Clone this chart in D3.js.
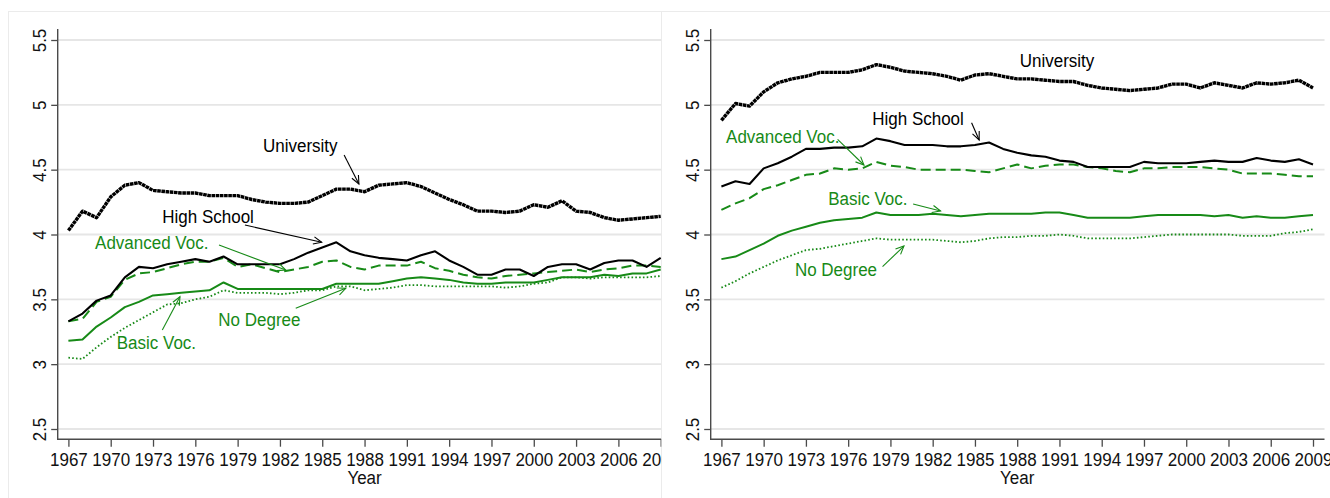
<!DOCTYPE html>
<html><head><meta charset="utf-8">
<script src="https://cdn.jsdelivr.net/npm/d3@7"></script>
<style>body{margin:0;background:#fff}svg{display:block}text{font-family:"Liberation Sans",Arial,sans-serif}</style>
</head><body><svg id="c" width="1330" height="498"></svg>
<script>
const years = [1967,1968,1969,1970,1971,1972,1973,1974,1975,1976,1977,1978,1979,1980,1981,1982,1983,1984,1985,1986,1987,1988,1989,1990,1991,1992,1993,1994,1995,1996,1997,1998,1999,2000,2001,2002,2003,2004,2005,2006,2007,2008,2009];
const xTickLabels = [1967,1970,1973,1976,1979,1982,1985,1988,1991,1994,1997,2000,2003,2006,2009];
const yTickLabels = [2.5,3,3.5,4,4.5,5,5.5];
const xTitle = "Year";

// Left panel
const leftUniversity = [4.03,4.18,4.13,4.29,4.38,4.40,4.34,4.33,4.32,4.32, 4.30,4.30,4.30,4.27,4.25,4.24,4.24,4.25,4.30,4.35, 4.35,4.33,4.38,4.39,4.40,4.37,4.32,4.27,4.23,4.18, 4.18,4.17,4.18,4.23,4.21,4.26,4.18,4.17,4.13,4.11, 4.12,4.13,4.14];
const leftHighSchool = [3.33,3.39,3.49,3.53,3.67,3.75,3.74,3.77,3.79,3.81, 3.79,3.83,3.77,3.77,3.77,3.77,3.81,3.86,3.90,3.94, 3.87,3.84,3.82,3.81,3.80,3.84,3.87,3.80,3.75,3.69, 3.69,3.73,3.73,3.68,3.75,3.77,3.77,3.73,3.78,3.80, 3.80,3.75,3.82];
const leftAdvancedVoc = [3.33,3.35,3.48,3.52,3.65,3.70,3.71,3.74,3.77,3.79, 3.79,3.82,3.75,3.77,3.74,3.71,3.73,3.75,3.79,3.80, 3.75,3.73,3.76,3.76,3.76,3.79,3.74,3.72,3.69,3.67, 3.66,3.68,3.69,3.70,3.71,3.72,3.73,3.71,3.73,3.74, 3.76,3.76,3.75];
const leftBasicVoc = [3.18,3.19,3.29,3.36,3.44,3.48,3.53,3.54,3.55,3.56, 3.57,3.63,3.58,3.58,3.58,3.58,3.58,3.58,3.58,3.62, 3.62,3.62,3.62,3.64,3.66,3.67,3.66,3.65,3.63,3.62, 3.62,3.63,3.63,3.63,3.65,3.67,3.67,3.67,3.69,3.68, 3.70,3.70,3.73];
const leftNoDegree = [3.05,3.04,3.13,3.21,3.28,3.34,3.40,3.46,3.47,3.50, 3.52,3.57,3.55,3.55,3.55,3.54,3.55,3.57,3.57,3.60, 3.60,3.57,3.58,3.59,3.61,3.61,3.60,3.60,3.60,3.60, 3.60,3.59,3.60,3.62,3.63,3.67,3.67,3.66,3.67,3.67, 3.67,3.67,3.68];

// Right panel
const rightUniversity = [4.88,5.01,4.99,5.10,5.17,5.20,5.22,5.25,5.25,5.25, 5.27,5.31,5.29,5.26,5.25,5.24,5.22,5.19,5.23,5.24, 5.22,5.20,5.20,5.19,5.18,5.18,5.15,5.13,5.12,5.11, 5.12,5.13,5.16,5.16,5.13,5.17,5.15,5.13,5.17,5.16, 5.17,5.19,5.13];
const rightHighSchool = [4.37,4.41,4.39,4.51,4.55,4.60,4.66,4.66,4.67,4.67, 4.68,4.74,4.72,4.69,4.69,4.69,4.68,4.68,4.69,4.71, 4.66,4.63,4.61,4.60,4.57,4.56,4.52,4.52,4.52,4.52, 4.56,4.55,4.55,4.55,4.56,4.57,4.56,4.56,4.59,4.57, 4.56,4.58,4.54];
const rightAdvancedVoc = [4.19,4.24,4.28,4.35,4.38,4.42,4.46,4.47,4.51,4.50, 4.51,4.56,4.53,4.52,4.50,4.50,4.50,4.50,4.49,4.48, 4.51,4.54,4.51,4.53,4.54,4.54,4.52,4.51,4.49,4.48, 4.51,4.51,4.52,4.52,4.52,4.51,4.50,4.47,4.47,4.47, 4.46,4.45,4.45];
const rightBasicVoc = [3.81,3.83,3.88,3.93,3.99,4.03,4.06,4.09,4.11,4.12, 4.13,4.17,4.15,4.15,4.15,4.16,4.15,4.14,4.15,4.16, 4.16,4.16,4.16,4.17,4.17,4.15,4.13,4.13,4.13,4.13, 4.14,4.15,4.15,4.15,4.15,4.14,4.15,4.13,4.14,4.13, 4.13,4.14,4.15];
const rightNoDegree = [3.59,3.64,3.70,3.75,3.80,3.84,3.88,3.89,3.91,3.93, 3.95,3.97,3.96,3.96,3.96,3.96,3.95,3.94,3.95,3.97, 3.98,3.98,3.99,3.99,4.00,3.99,3.97,3.97,3.97,3.97, 3.98,3.99,4.00,4.00,4.00,4.00,4.00,3.99,3.99,3.99, 4.01,4.02,4.04];

// Annotation labels (anchored in data coordinates: year, value)
const leftLabels = [
  {text:"University", color:"k", at:[1980.8,4.636], arrow:[[1986.55,4.613],[1987.6,4.39]]},
  {text:"High School", color:"k", at:[1973.66,4.091], arrow:[[1979.52,4.073],[1984.96,3.94]]},
  {text:"Advanced Voc.", color:"g", at:[1968.89,3.886], arrow:[[1977.68,3.919],[1982.41,3.726]]},
  {text:"No Degree", color:"g", at:[1977.63,3.297], arrow:[[1983.12,3.431],[1986.67,3.585]]},
  {text:"Basic Voc.", color:"g", at:[1970.43,3.115], arrow:[[1973.66,3.264],[1974.91,3.52]]}
];
const rightLabels = [
  {text:"University", color:"k", at:[1988.18,5.292], arrow:null},
  {text:"High School", color:"k", at:[1977.71,4.844], arrow:[[1984.76,4.862],[1985.3,4.729]]},
  {text:"Advanced Voc.", color:"g", at:[1967.33,4.708], arrow:[[1975.25,4.734],[1977.12,4.536]]},
  {text:"Basic Voc.", color:"g", at:[1974.58,4.228], arrow:[[1980.61,4.235],[1982.56,4.181]]},
  {text:"No Degree", color:"g", at:[1972.22,3.68], arrow:[[1978.44,3.752],[1979.96,3.911]]}
];

const GREEN = "#178a17";
const BLACK = "#000";
const AXIS = "#4a4a4a";
const GRID = "#e6e6e6";
const FONT = 17, STRETCH = 1.06;

const svg = d3.select("#c");
svg.append("rect").attr("width",1330).attr("height",498).attr("fill","#fff");
// panel frames
const frame = svg.append("g").attr("stroke","#ebebeb").attr("stroke-width",1).attr("fill","none");
frame.append("line").attr("x1",8).attr("x2",1330).attr("y1",11.5).attr("y2",11.5);
frame.append("line").attr("x1",8.5).attr("x2",8.5).attr("y1",11.5).attr("y2",498);
frame.append("line").attr("x1",661.5).attr("x2",661.5).attr("y1",11.5).attr("y2",498);

const defs = svg.append("defs");
defs.append("clipPath").attr("id","clipL").append("rect").attr("x",0).attr("y",0).attr("width",661.3).attr("height",498);

const panels = [
  {axisX:57.7, range:[68.4,660.7], plotRight:661.3, clip:"clipL", labels:leftLabels,
   series:[
     {v:leftNoDegree, c:GREEN, w:1.8, d:"1.6 2.2"},
     {v:leftBasicVoc, c:GREEN, w:2, d:null},
     {v:leftAdvancedVoc, c:GREEN, w:2, d:"10 5"},
     {v:leftHighSchool, c:BLACK, w:2.1, d:null},
     {v:leftUniversity, c:BLACK, w:3.4, d:"3.6 0.6"}
   ]},
  {axisX:710.7, range:[721.4,1313], plotRight:1324.5, clip:null, labels:rightLabels,
   series:[
     {v:rightNoDegree, c:GREEN, w:1.8, d:"1.6 2.2"},
     {v:rightBasicVoc, c:GREEN, w:2, d:null},
     {v:rightAdvancedVoc, c:GREEN, w:2, d:"10 5"},
     {v:rightHighSchool, c:BLACK, w:2.1, d:null},
     {v:rightUniversity, c:BLACK, w:3.4, d:"3.6 0.6"}
   ]}
];

const y = d3.scaleLinear().domain([2.5,5.5]).range([429,40]);
const baseY = 439.3;

panels.forEach(p => {
  const x = d3.scaleLinear().domain([1967,2009]).range(p.range);
  const g = svg.append("g");
  if (p.clip) g.attr("clip-path","url(#"+p.clip+")");

  // gridlines
  g.append("g").selectAll("line").data(yTickLabels).join("line")
    .attr("x1",p.axisX).attr("x2",p.plotRight)
    .attr("y1",d=>y(d)).attr("y2",d=>y(d))
    .attr("stroke",GRID).attr("stroke-width",1.8);

  // lines
  const line = d3.line().x((d,i)=>x(years[i])).y(d=>y(d));
  p.series.forEach(s => {
    g.append("path").datum(s.v).attr("d",line)
      .attr("fill","none").attr("stroke",s.c).attr("stroke-width",s.w)
      .attr("stroke-linejoin","round")
      .attr("stroke-dasharray",s.d);
  });

  // y axis
  const ya = g.append("g").attr("transform",`translate(${p.axisX},0)`)
    .call(d3.axisLeft(y).tickValues(yTickLabels).tickSize(6.5).tickSizeOuter(0).tickFormat(d3.format("")));
  ya.select(".domain").remove();
  ya.append("line").attr("x1",0).attr("x2",0).attr("y1",29).attr("y2",baseY+0.6)
    .attr("stroke",AXIS).attr("stroke-width",1.4);
  ya.selectAll(".tick line").attr("stroke",AXIS).attr("stroke-width",1.3);
  ya.selectAll(".tick text")
    .attr("x",null).attr("dy",null).attr("y",0)
    .attr("text-anchor","middle")
    .attr("transform",`rotate(-90) translate(0,-12.2) scale(1,${STRETCH})`)
    .attr("font-size",FONT).attr("font-family","Liberation Sans, Arial, sans-serif").attr("fill","#111");

  // x axis
  const xa = g.append("g").attr("transform",`translate(0,${baseY})`)
    .call(d3.axisBottom(x).tickValues(xTickLabels).tickSize(7.4).tickSizeOuter(0).tickFormat(d3.format("d")));
  xa.select(".domain").remove();
  xa.append("line").attr("x1",p.axisX).attr("x2",p.plotRight).attr("y1",0).attr("y2",0)
    .attr("stroke",AXIS).attr("stroke-width",1.4);
  xa.selectAll(".tick line").attr("stroke",AXIS).attr("stroke-width",1.3);
  xa.selectAll(".tick text")
    .attr("y",0).attr("dy",null)
    .attr("transform",`translate(0,26.4) scale(1,${STRETCH})`)
    .attr("font-size",FONT).attr("font-family","Liberation Sans, Arial, sans-serif").attr("fill","#111");

  // axis title
  g.append("text").attr("text-anchor","middle")
    .attr("transform",`translate(${(p.range[0]+p.range[1])/2},484) scale(1,${STRETCH})`)
    .attr("font-size",FONT).attr("fill","#111").text(xTitle);

  // annotations
  p.labels.forEach(a => {
    const col = a.color === "g" ? GREEN : BLACK;
    g.append("text")
      .attr("transform",`translate(${x(a.at[0])},${y(a.at[1])}) scale(1,${STRETCH})`)
      .attr("font-size",FONT).attr("fill",col).text(a.text);
    if (a.arrow) {
      const [s,e] = a.arrow;
      const x1 = x(s[0]), y1 = y(s[1]), x2 = x(e[0]), y2 = y(e[1]);
      g.append("line").attr("x1",x1).attr("y1",y1).attr("x2",x2).attr("y2",y2)
        .attr("stroke",col).attr("stroke-width",1.1);
      const ang = Math.atan2(y2-y1,x2-x1), L = 9, sp = 0.42;
      const pts = [[x2-L*Math.cos(ang-sp), y2-L*Math.sin(ang-sp)],[x2,y2],[x2-L*Math.cos(ang+sp), y2-L*Math.sin(ang+sp)]];
      g.append("path").attr("d",d3.line()(pts)).attr("fill","none")
        .attr("stroke",col).attr("stroke-width",1.1);
    }
  });
});
</script></body></html>
